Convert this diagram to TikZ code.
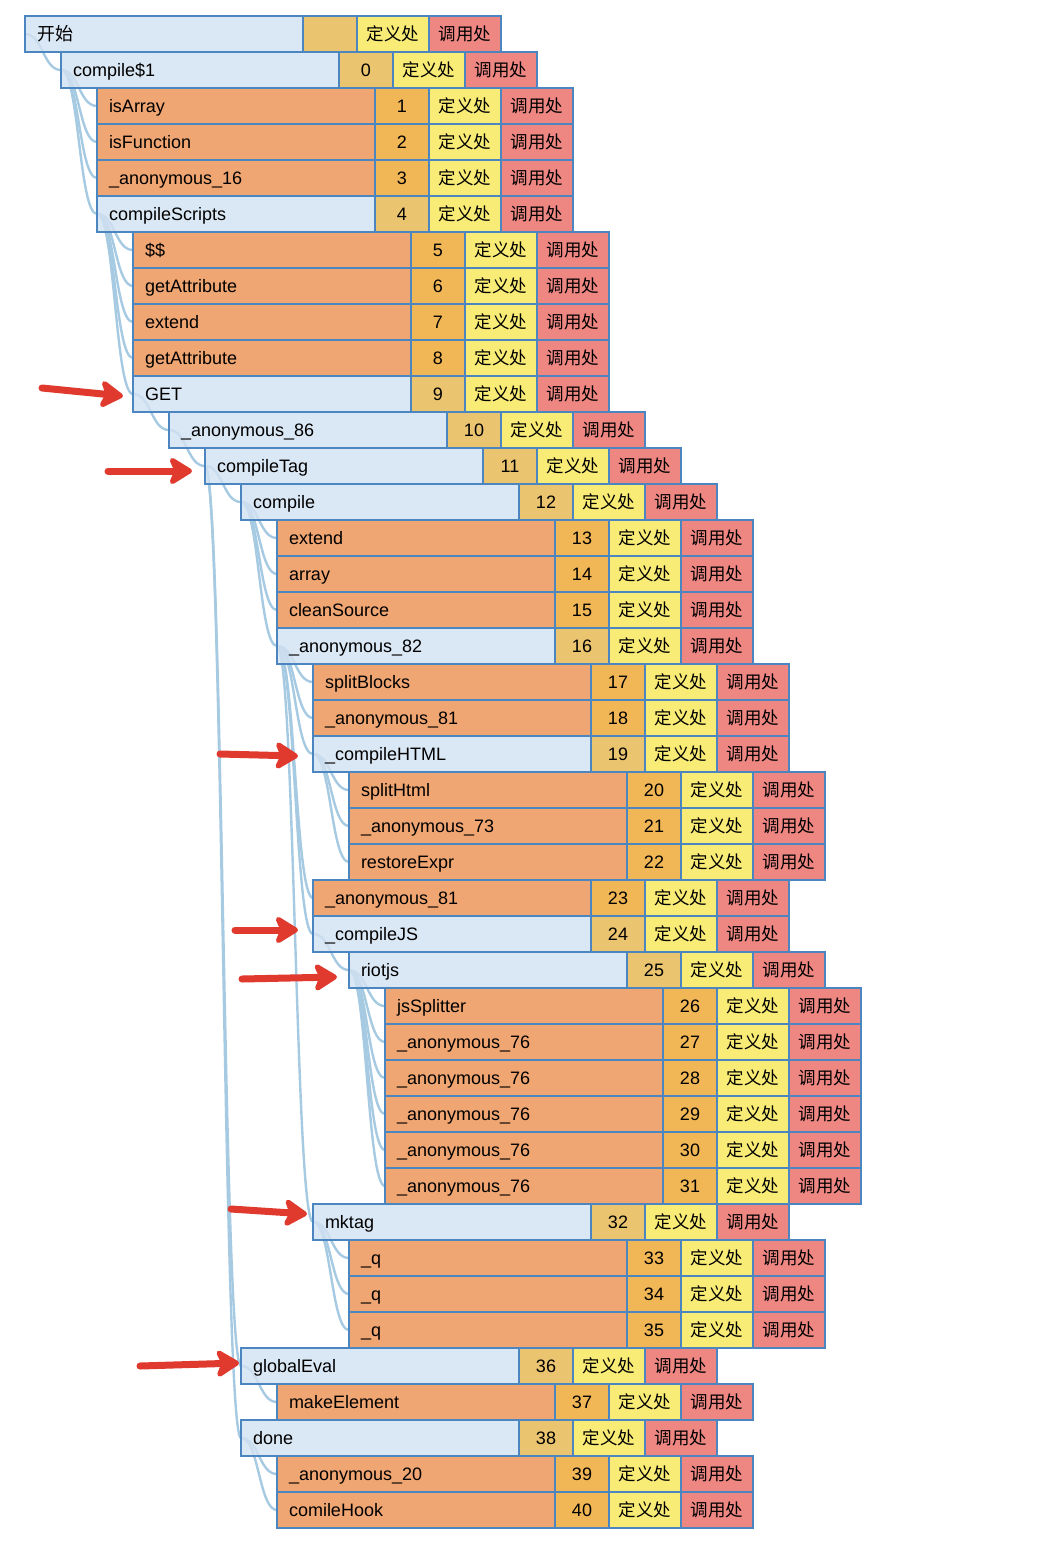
\documentclass[tikz,border=0pt]{standalone}
\usepackage{fontspec}
\setmainfont{Liberation Sans}
\newfontfamily\cjk{Noto Sans CJK SC}
\usetikzlibrary{arrows.meta,calc}
\pgfdeclarelayer{background}
\pgfsetlayers{background,main}
\definecolor{bluefill}{HTML}{D3E2F2}
\definecolor{edgecol}{HTML}{4C86C1}
\definecolor{orangefill}{HTML}{F0A672}
\definecolor{numblue}{HTML}{EBC470}
\definecolor{numorange}{HTML}{F1B756}
\definecolor{deffill}{HTML}{F9EC76}
\definecolor{callfill}{HTML}{EE8682}
\definecolor{linkcol}{HTML}{A6CAE2}
\definecolor{arrowred}{HTML}{E03A2E}
\begin{document}
\begin{tikzpicture}[x=1pt,y=1pt,
  cell/.style={draw=edgecol, line width=2pt, minimum height=36pt, inner xsep=0pt, inner ysep=0pt, outer sep=0pt,
    anchor=north west, text height=13pt, text depth=0pt, font=\fontsize{18}{20}\selectfont},
  namecell/.style={cell, minimum width=278pt, text width=254pt, align=left},
  nameb/.style={namecell, fill=bluefill, fill opacity=0.82, text opacity=1},
  nameo/.style={namecell, fill=orangefill},
  numcell/.style={cell, minimum width=54pt},
  numb/.style={numcell, fill=numblue},
  numo/.style={numcell, fill=numorange},
  defcell/.style={cell, minimum width=72pt, fill=deffill, font=\cjk\fontsize{17.5}{20}\selectfont},
  callcell/.style={cell, minimum width=72pt, fill=callfill, font=\cjk\fontsize{17.5}{20}\selectfont},
  link/.style={draw=linkcol, line width=2.4pt},
  pointer/.style={draw=arrowred, line width=7pt, line cap=round,
    -{Stealth[length=27pt,width=33pt,inset=7pt,round]}}
]
\begin{pgfonlayer}{background}
\fill[white] (0,0) rectangle (1058,-1556);
\end{pgfonlayer}
\useasboundingbox (0,0) rectangle (1058,-1556);

\foreach \lv/\nm/\k [count=\i from 0] in {
  0/{\cjk 开始}/b,
  1/compile\$1/b,
  2/isArray/o,
  2/isFunction/o,
  2/\_anonymous\_16/o,
  2/compileScripts/b,
  3/\$\$/o,
  3/getAttribute/o,
  3/extend/o,
  3/getAttribute/o,
  3/GET/b,
  4/\_anonymous\_86/b,
  5/compileTag/b,
  6/compile/b,
  7/extend/o,
  7/array/o,
  7/cleanSource/o,
  7/\_anonymous\_82/b,
  8/splitBlocks/o,
  8/\_anonymous\_81/o,
  8/\_compileHTML/b,
  9/splitHtml/o,
  9/\_anonymous\_73/o,
  9/restoreExpr/o,
  8/\_anonymous\_81/o,
  8/\_compileJS/b,
  9/riotjs/b,
  10/jsSplitter/o,
  10/\_anonymous\_76/o,
  10/\_anonymous\_76/o,
  10/\_anonymous\_76/o,
  10/\_anonymous\_76/o,
  10/\_anonymous\_76/o,
  8/mktag/b,
  9/\_q/o,
  9/\_q/o,
  9/\_q/o,
  6/globalEval/b,
  7/makeElement/o,
  6/done/b,
  7/\_anonymous\_20/o,
  7/comileHook/o}
{
  \pgfmathsetmacro\xx{25+36*\lv}
  \pgfmathsetmacro\yy{-(16+36*\i)}
  \pgfmathtruncatemacro\nn{\i-1}
  \node[name\k] (r\i) at (\xx,\yy) {\nm};
  \node[num\k] (n\i) at (r\i.north east) {\ifnum\i>0 \nn\fi};
  \node[defcell] (d\i) at (n\i.north east) {定义处};
  \node[callcell] (c\i) at (d\i.north east) {调用处};
}

\begin{pgfonlayer}{background}
\foreach \p/\c in {0/1, 1/2,1/3,1/4,1/5, 5/6,5/7,5/8,5/9,5/10, 10/11, 11/12,
  12/13,12/37,12/39, 13/14,13/15,13/16,13/17,
  17/18,17/19,17/20,17/24,17/25,17/33, 20/21,20/22,20/23, 25/26,
  26/27,26/28,26/29,26/30,26/31,26/32, 33/34,33/35,33/36, 37/38, 39/40,39/41}
  \draw[link] (r\p.west) .. controls ([xshift=18pt]r\p.west) and ([xshift=-18pt]r\c.west) .. (r\c.west);
\end{pgfonlayer}

\coordinate (a1) at (42,-388);
\coordinate (a2) at (108,-471);
\coordinate (a3) at (220,-754);
\coordinate (a4) at (235,-930);
\coordinate (a5) at (242,-979);
\coordinate (a6) at (231,-1209);
\coordinate (a7) at (140,-1366);
\draw[pointer] (a1) -- ([xshift=-10pt,yshift=-2pt]r10.west);
\draw[pointer] (a2) -- ([xshift=-13pt,yshift=-5pt]r12.west);
\draw[pointer] (a3) -- ([xshift=-15pt,yshift=-2pt]r20.west);
\draw[pointer] (a4) -- ([xshift=-15pt,yshift=4pt]r25.west);
\draw[pointer] (a5) -- ([xshift=-12pt,yshift=-7pt]r26.west);
\draw[pointer] (a6) -- ([xshift=-6pt,yshift=8pt]r33.west);
\draw[pointer] (a7) -- ([xshift=-2pt,yshift=3pt]r37.west);
\end{tikzpicture}
\end{document}
